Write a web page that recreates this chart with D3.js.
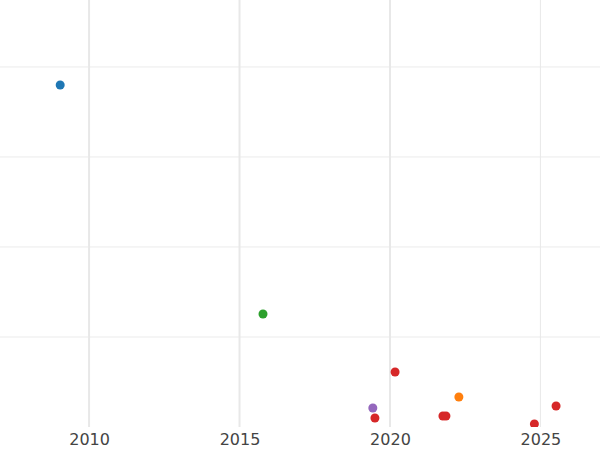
<!DOCTYPE html>
<html><head><meta charset="utf-8">
<script src="https://cdn.jsdelivr.net/npm/d3@7"></script>
<style>body{margin:0;background:#fff}</style></head>
<body><svg id="c" width="600" height="450"></svg>
<script>
const years = [2009.04, 2015.78, 2020.17, 2019.43, 2019.5, 2022.29, 2021.76, 2021.86, 2024.8, 2025.52];
const values = [3.80, 1.256, 0.611, 0.211, 0.10, 0.333, 0.122, 0.122, 0.033, 0.233];
const groups = ["blue","green","red","purple","red","orange","red","red","red","red"];
const xTicks = [2010, 2015, 2020, 2025];
const yGrid = [1, 2, 3, 4];
const colors = {blue:"#1f77b4",green:"#2ca02c",red:"#d62728",purple:"#9467bd",orange:"#ff7f0e"};

const svg = d3.select("#c");
const W=600, B=427;
const x = d3.scaleLinear().domain([2007.04, 2026.98]).range([0, W]);
const y = d3.scaleLinear().domain([0, 4.744]).range([B, 0]);

svg.append("defs").append("clipPath").attr("id","clip").append("rect").attr("x",0).attr("y",0).attr("width",W).attr("height",B);

svg.append("g").selectAll("line").data(yGrid).join("line")
  .attr("x1",0).attr("x2",W).attr("y1",d=>y(d)).attr("y2",d=>y(d))
  .attr("stroke","#ebebeb").attr("stroke-width",1);
svg.append("g").selectAll("line").data(xTicks).join("line")
  .attr("x1",d=>x(d)).attr("x2",d=>x(d)).attr("y1",0).attr("y2",B)
  .attr("stroke","#e8e8e8").attr("stroke-width",d=>d===2025?1:2);

const ax = svg.append("g").attr("transform",`translate(0,${B})`)
  .call(d3.axisBottom(x).tickValues(xTicks).tickFormat(d3.format("d")).tickSize(0).tickPadding(7));
ax.select(".domain").remove();
ax.selectAll("text").attr("font-family","DejaVu Sans, sans-serif").attr("font-size",16).attr("fill","#444");

const pts = years.map((yr,i)=>({yr, v:values[i], g:groups[i]}));
svg.append("g").attr("clip-path","url(#clip)").selectAll("circle").data(pts).join("circle")
  .attr("cx",d=>x(d.yr)).attr("cy",d=>y(d.v)).attr("r",4.5).attr("fill",d=>colors[d.g]);
</script></body></html>
